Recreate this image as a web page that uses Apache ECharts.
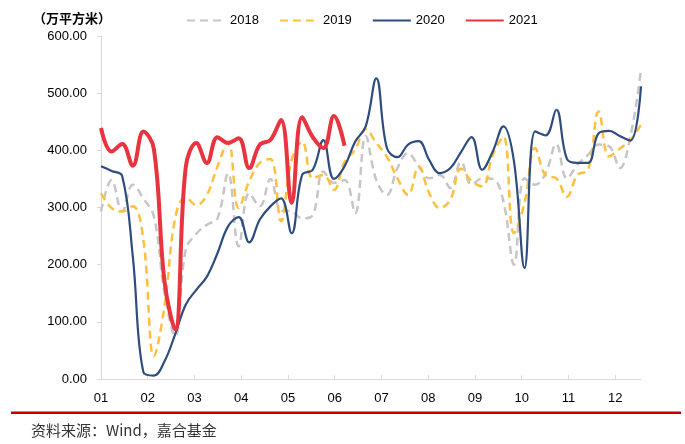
<!DOCTYPE html>
<html>
<head>
<meta charset="utf-8">
<script src="https://cdn.jsdelivr.net/npm/echarts@6/dist/echarts.min.js"></script>
<style>
html,body{margin:0;padding:0;background:#fff;}
#c{width:685px;height:444px;}
</style>
</head>
<body>
<div id="c"></div>
<script>
// ---- data (weekly values, 万平方米) ----
const years = ['2018', '2019', '2020', '2021'];
const monthLabels = ['01','02','03','04','05','06','07','08','09','10','11','12'];
const weeksPerMonth = 4.415;
const lastWeek = 51;

const s2018 = [293,348,293,340,316,284,150,75,226,254,270,281,360,232,325,302,350,295,293,281,287,363,343,348,290,425,348,322,369,395,372,351,357,334,380,340,351,350,311,200,351,340,360,411,351,375,392,410,407,369,424,541];
const s2019 = [325,299,293,302,244,40,127,281,318,304,322,372,415,299,346,378,385,276,383,415,351,357,331,380,401,437,413,389,351,322,372,325,299,314,368,346,337,392,424,255,308,404,356,351,319,357,366,468,389,403,418,445];
const s2020 = [372,364,355,215,12,6,31,78,130,156,179,220,267,283,239,279,302,316,255,357,366,418,350,372,415,442,526,404,388,410,416,383,360,369,397,423,366,398,442,381,194,433,426,471,385,378,378,430,434,425,417,512];
const s2021 = [439,398,411,373,433,402,170,87,370,413,378,423,413,421,369,410,418,453,308,458,423,404,460,408];

const unitTitle = '（万平方米）';
const sourceText = '资料来源：Wind，嘉合基金';

const seriesData = [s2018, s2019, s2020, s2021];
const seriesStyle = [
  {color: '#C6C6C6', width: 2.5, type: [8, 5]},
  {color: '#FFC03F', width: 2.5, type: [8, 5]},
  {color: '#2E4C7E', width: 2.2, type: 'solid'},
  {color: '#E8343F', width: 4,   type: 'solid'}
];

const monthPos = monthLabels.map((_, i) => i * weeksPerMonth);

const chart = echarts.init(document.getElementById('c'), null, {renderer: 'canvas'});
chart.setOption({
  animation: false,
  backgroundColor: '#fff',
  title: {
    text: unitTitle,
    left: 33, top: 12, padding: 0,
    textStyle: {fontFamily: 'Noto Sans CJK SC', fontSize: 13, fontWeight: 'bold', color: '#000'}
  },
  legend: {
    left: 186, top: 14, padding: 0,
    itemWidth: 38, itemHeight: 14, itemGap: 20,
    itemStyle: {opacity: 0},
    textStyle: {fontFamily: 'Liberation Sans', fontSize: 13, color: '#000'},
    data: years
  },
  grid: {left: 101, right: 44, top: 36, bottom: 65, containLabel: false},
  xAxis: {
    type: 'value', min: 0, max: lastWeek,
    axisLine: {show: true, lineStyle: {color: '#D9D9D9', width: 1}},
    axisTick: {show: true, inside: true, length: 4, lineStyle: {color: '#D9D9D9'}, customValues: monthPos},
    axisLabel: {
      customValues: monthPos,
      margin: 13,
      fontFamily: 'Liberation Sans', fontSize: 13, color: '#000',
      formatter: v => monthLabels[Math.round(v / weeksPerMonth)] || ''
    },
    splitLine: {show: false}
  },
  yAxis: {
    type: 'value', min: 0, max: 600, interval: 100,
    axisLine: {show: true, lineStyle: {color: '#D9D9D9', width: 1}},
    axisTick: {show: true, length: 4, lineStyle: {color: '#D9D9D9'}},
    axisLabel: {
      margin: 14,
      fontFamily: 'Liberation Sans', fontSize: 13, color: '#000',
      formatter: v => v.toFixed(2)
    },
    splitLine: {show: false}
  },
  series: years.map((y, i) => ({
    name: y,
    type: 'line',
    smooth: 0.4,
    symbol: 'none',
    showSymbol: false,
    z: 2 + i,
    lineStyle: {color: seriesStyle[i].color, width: seriesStyle[i].width, type: seriesStyle[i].type},
    itemStyle: {color: seriesStyle[i].color},
    data: seriesData[i].map((v, k) => [k, v])
  })),
  graphic: [
    {type: 'line', silent: true, shape: {x1: 11, y1: 412.7, x2: 681, y2: 412.7},
     style: {stroke: '#C00000', lineWidth: 2.5}},
    {type: 'text', left: 31, top: 423,
     style: {text: sourceText, fontFamily: 'Noto Sans CJK SC', fontSize: 15, fill: '#333'}}
  ]
});
</script>
</body>
</html>
